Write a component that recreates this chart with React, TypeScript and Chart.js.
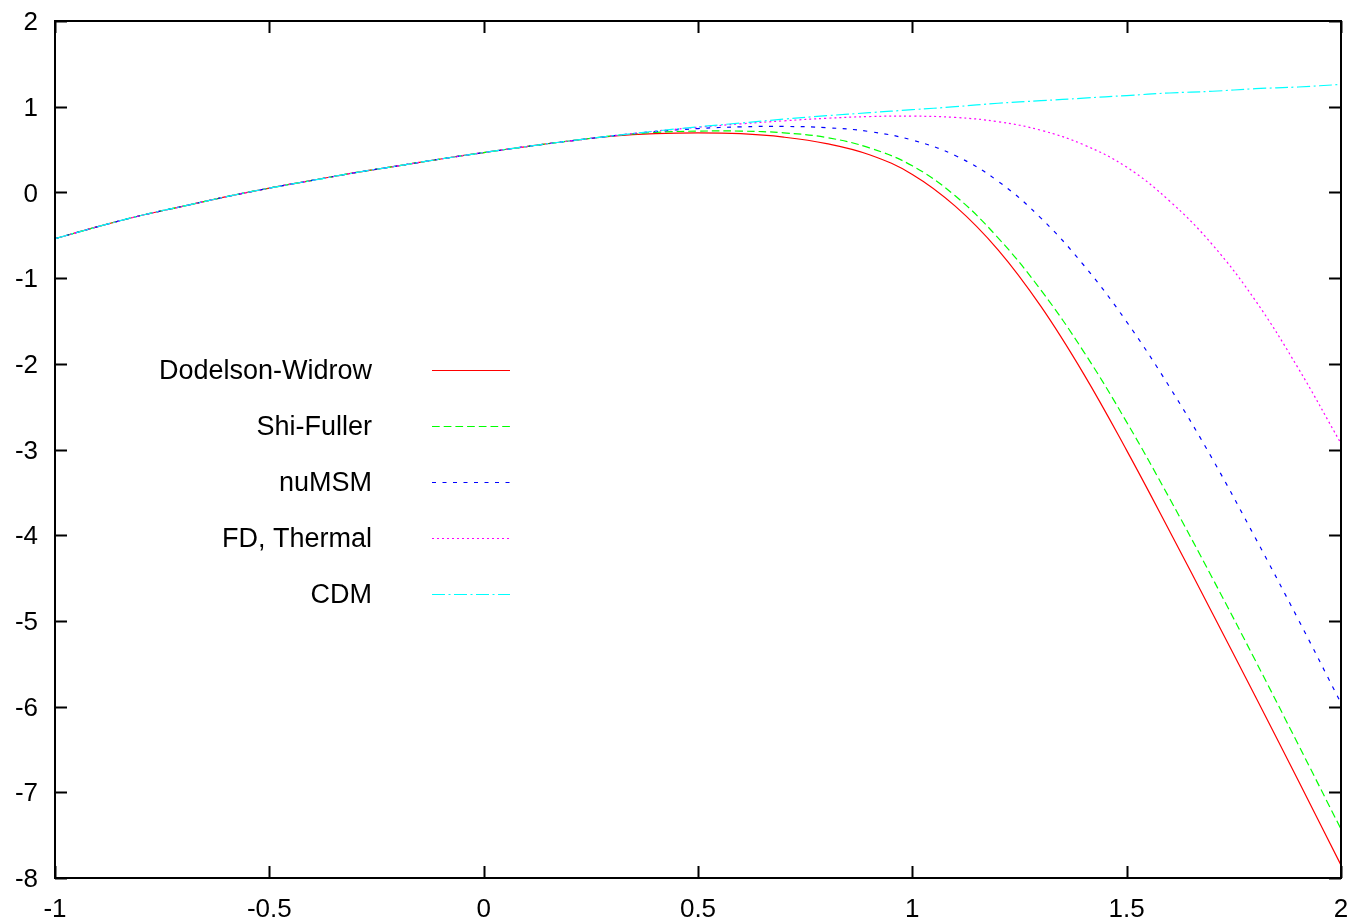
import React, { useEffect, useRef } from "react";
import { Chart, registerables } from "chart.js";

Chart.register(...registerables);

// x = log10(k) sample positions
const xValues = [
  -1, -0.9, -0.8, -0.7, -0.6, -0.5, -0.4, -0.3, -0.2, -0.1, 0, 0.1, 0.2, 0.3, 0.4, 0.5,
  0.6, 0.7, 0.8, 0.9, 1, 1.1, 1.2, 1.3, 1.4, 1.5, 1.6, 1.7, 1.8, 1.9, 2,
];

const dodelsonWidrow = [
  -0.54, -0.4, -0.27, -0.16, -0.05, 0.05, 0.14, 0.23, 0.31, 0.39, 0.465, 0.535, 0.6, 0.655, 0.685, 0.695,
  0.685, 0.645, 0.57, 0.44, 0.21, -0.16, -0.67, -1.33, -2.12, -3.01, -3.95, -4.91, -5.88, -6.86, -7.85,
];

const shiFuller = [
  -0.54, -0.4, -0.27, -0.16, -0.05, 0.05, 0.14, 0.23, 0.31, 0.39, 0.465, 0.535, 0.6, 0.66, 0.7, 0.715,
  0.715, 0.695, 0.64, 0.52, 0.31, -0.04, -0.53, -1.14, -1.86, -2.68, -3.57, -4.5, -5.46, -6.44, -7.43,
];

const nuMSM = [
  -0.54, -0.4, -0.27, -0.16, -0.05, 0.05, 0.14, 0.23, 0.31, 0.39, 0.465, 0.535, 0.6, 0.66, 0.71, 0.745,
  0.765, 0.77, 0.755, 0.71, 0.61, 0.43, 0.13, -0.3, -0.85, -1.51, -2.27, -3.11, -4.03, -4.98, -5.96,
];

const fdThermal = [
  -0.54, -0.4, -0.27, -0.16, -0.05, 0.05, 0.14, 0.23, 0.31, 0.39, 0.465, 0.535, 0.6, 0.66, 0.715, 0.76,
  0.8, 0.835, 0.865, 0.885, 0.89, 0.875, 0.825, 0.725, 0.555, 0.295, -0.1, -0.61, -1.26, -2.05, -2.93,
];

const cdm = [
  -0.54, -0.4, -0.27, -0.16, -0.05, 0.05, 0.14, 0.23, 0.31, 0.39, 0.465, 0.535, 0.6, 0.66, 0.715, 0.765,
  0.81, 0.855, 0.895, 0.93, 0.965, 1.0, 1.04, 1.07, 1.1, 1.13, 1.16, 1.18, 1.21, 1.23, 1.26,
];

const seriesLabels = ["Dodelson-Widrow", "Shi-Fuller", "nuMSM", "FD, Thermal", "CDM"];
const seriesValues = [dodelsonWidrow, shiFuller, nuMSM, fdThermal, cdm];
const seriesColors = ["#ff0000", "#00ff00", "#0000ff", "#ff00ff", "#00ffff"];
const seriesDashes: number[][] = [[], [7.7, 4], [4, 6.5], [2, 3], [13, 3.5, 2, 3.5]];

const xTicks = [-1, -0.5, 0, 0.5, 1, 1.5, 2];
const yTicks = [-8, -7, -6, -5, -4, -3, -2, -1, 0, 1, 2];

const FONT = "'Liberation Sans', Arial, sans-serif";
const FONT_SIZE = 26;
const KEY_FONT_SIZE = 27;

const framePlugin = {
  id: "gnuplotFrame",
  afterDraw(chart: any) {
    const { ctx, chartArea, scales } = chart;
    const { left, right, top, bottom } = chartArea;
    const xs = scales.x;
    const ys = scales.y;
    ctx.save();
    ctx.strokeStyle = "#000";
    ctx.lineWidth = 2;
    ctx.strokeRect(left, top, right - left, bottom - top);
    ctx.beginPath();
    const tl = 12;
    for (const t of yTicks) {
      const py = Math.round(ys.getPixelForValue(t)) + 0.5;
      ctx.moveTo(left, py);
      ctx.lineTo(left + tl, py);
      ctx.moveTo(right, py);
      ctx.lineTo(right - tl, py);
    }
    for (const t of xTicks) {
      const px = Math.round(xs.getPixelForValue(t)) + 0.5;
      ctx.moveTo(px, bottom);
      ctx.lineTo(px, bottom - tl);
      ctx.moveTo(px, top);
      ctx.lineTo(px, top + tl);
    }
    ctx.stroke();

    // key (legend)
    ctx.font = `${KEY_FONT_SIZE}px ${FONT}`;
    ctx.textAlign = "right";
    ctx.textBaseline = "middle";
    chart.data.datasets.forEach((ds: any, i: number) => {
      const yy = 370 + 56 * i;
      ctx.fillStyle = "#000";
      ctx.fillText(ds.label, 372, yy + 2);
      ctx.beginPath();
      ctx.strokeStyle = ds.borderColor;
      ctx.lineWidth = 1.2;
      ctx.setLineDash(ds.borderDash || []);
      ctx.moveTo(432, yy + 0.5);
      ctx.lineTo(510, yy + 0.5);
      ctx.stroke();
      ctx.setLineDash([]);
    });
    ctx.restore();
  },
};

const zeroPadding = (scale: any) => {
  scale.paddingTop = 0;
  scale.paddingBottom = 0;
  scale.paddingLeft = 0;
  scale.paddingRight = 0;
};

export default function App() {
  const canvasRef = useRef<HTMLCanvasElement | null>(null);

  useEffect(() => {
    const canvas = canvasRef.current;
    if (!canvas) return;
    const datasets = seriesLabels.map((label, i) => ({
      label,
      data: xValues.map((x, j) => ({ x, y: seriesValues[i][j] })),
      borderColor: seriesColors[i],
      backgroundColor: seriesColors[i],
      borderWidth: 1.2,
      borderDash: seriesDashes[i],
      pointRadius: 0,
      fill: false,
      tension: 0.4,
      order: seriesLabels.length - i,
    }));

    const chart = new Chart(canvas, {
      type: "line",
      data: { datasets },
      plugins: [framePlugin],
      options: {
        animation: false,
        responsive: false,
        maintainAspectRatio: false,
        layout: { padding: { top: 21, right: 15, left: 0, bottom: 0 } },
        plugins: {
          legend: { display: false },
          tooltip: { enabled: false },
          title: { display: false },
        },
        scales: {
          x: {
            type: "linear",
            min: -1,
            max: 2,
            grid: { display: false, drawTicks: false },
            border: { display: false },
            afterBuildTicks: (scale: any) => {
              scale.ticks = xTicks.map((v) => ({ value: v }));
            },
            afterFit: (scale: any) => {
              scale.height = 39;
              zeroPadding(scale);
            },
            ticks: {
              color: "#000",
              font: { family: FONT, size: FONT_SIZE },
              padding: 16,
              maxRotation: 0,
              autoSkip: false,
              callback: (v: any) => String(v),
            },
          },
          y: {
            type: "linear",
            min: -8,
            max: 2,
            grid: { display: false, drawTicks: false },
            border: { display: false },
            afterBuildTicks: (scale: any) => {
              scale.ticks = yTicks.map((v) => ({ value: v }));
            },
            afterFit: (scale: any) => {
              scale.width = 55;
              zeroPadding(scale);
            },
            ticks: {
              color: "#000",
              font: { family: FONT, size: FONT_SIZE },
              padding: 17,
              labelOffset: 2,
              autoSkip: false,
              callback: (v: any) => String(v),
            },
          },
        },
      },
    });
    return () => chart.destroy();
  }, []);

  return (
    <div style={{ position: "absolute", left: 0, top: 0, width: 1356, height: 917, background: "#fff" }}>
      <canvas ref={canvasRef} width={1356} height={917} style={{ display: "block", width: 1356, height: 917 }} />
    </div>
  );
}
